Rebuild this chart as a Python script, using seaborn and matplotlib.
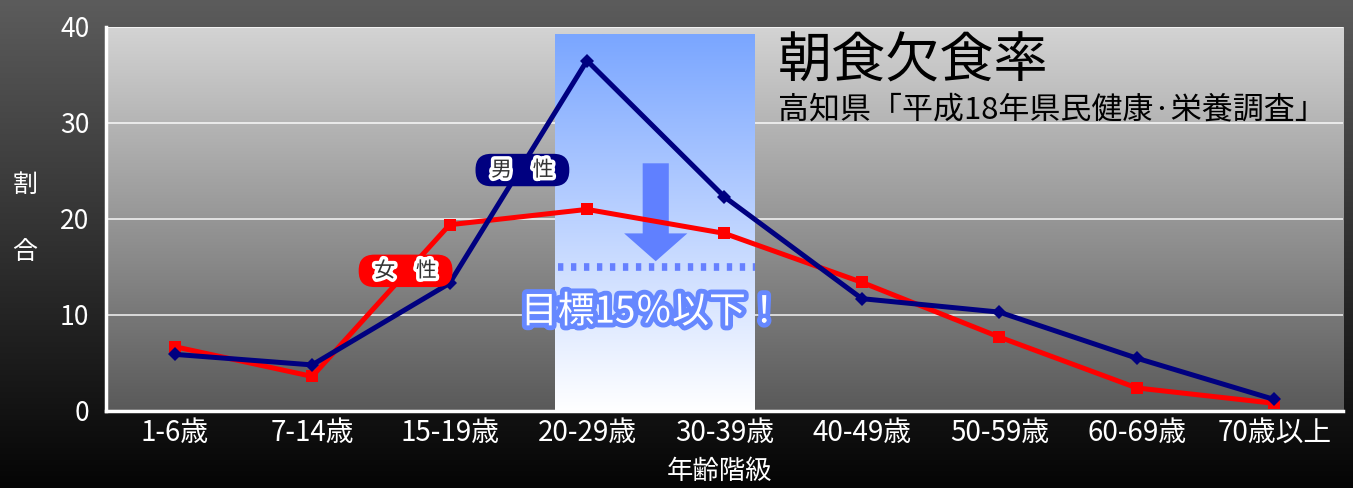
import numpy as np
import pandas as pd
import matplotlib
matplotlib.use('Agg')
import matplotlib.pyplot as plt
import matplotlib.patheffects as pe
from matplotlib.patches import FancyArrow
import seaborn as sns

age_groups = ['1-6歳', '7-14歳', '15-19歳', '20-29歳', '30-39歳',
              '40-49歳', '50-59歳', '60-69歳', '70歳以上']
male = [5.9, 4.8, 13.3, 36.5, 22.3, 11.7, 10.3, 5.5, 1.2]
female = [6.7, 3.6, 19.4, 21.0, 18.5, 13.4, 7.7, 2.4, 0.8]
y_ticks = [0, 10, 20, 30, 40]
target = 15

sns.set_style('white')
plt.rcParams['font.family'] = ['Noto Sans CJK JP', 'DejaVu Sans']

fig = plt.figure(figsize=(13.53, 4.88), dpi=100)

# figure background gradient
bg = fig.add_axes([0, 0, 1, 1], zorder=-10)
g = np.linspace(0, 1, 256).reshape(-1, 1)
bg_col = 0.36 * (1 - g) + 0.02 * g
bg.imshow(np.dstack([bg_col, bg_col, bg_col]), aspect='auto', extent=[0, 1, 0, 1])
bg.axis('off')

ax = fig.add_axes([0.0783, 0.1578, 0.9143, 0.7869])
ax.patch.set_alpha(0)

# plot area gradient
pa = 0.83 * (1 - g) + 0.35 * g
ax.imshow(np.dstack([pa, pa, pa]), aspect='auto', extent=[-0.5, 8.5, 0, 40], zorder=0)

# highlighted band (20-39)
hl = np.dstack([(122 + (255 - 122) * g) / 255, (166 + (255 - 166) * g) / 255, np.ones_like(g)])
ax.imshow(hl, aspect='auto', extent=[2.77, 4.22, 0, 39.2], zorder=1)

for yv in y_ticks[1:]:
    ax.axhline(yv, color='white', lw=1.2, alpha=0.85, zorder=0.5)

ax.plot([2.79, 4.22], [target, target], color='#6680ff', lw=5.5,
        linestyle=(0, (0.7, 1.0)), zorder=2)
ax.add_patch(FancyArrow(3.5, 25.8, 0, -10.2, width=0.19, head_width=0.46,
                        head_length=2.9, length_includes_head=True,
                        color='#6080ff', lw=0, zorder=2))

df = pd.DataFrame({'age': age_groups, 'male': male, 'female': female})
sns.lineplot(data=df, x='age', y='female', ax=ax, color='#ff0000', lw=3.6,
             marker='s', markersize=8.5, markeredgewidth=0, sort=False, zorder=4)
sns.lineplot(data=df, x='age', y='male', ax=ax, color='#000080', lw=3.6,
             marker='D', markersize=7.5, markeredgewidth=0, sort=False, zorder=5)

ax.set_xlim(-0.5, 8.5)
ax.set_ylim(0, 40)
ax.set_yticks(y_ticks)
ax.set_yticklabels([str(v) for v in y_ticks], fontsize=19, color='white')
ax.set_xticks(range(len(age_groups)))
ax.set_xticklabels(age_groups, fontsize=20, color='white')
ax.tick_params(axis='x', length=0, pad=5)
ax.tick_params(axis='y', length=0, pad=12)
ax.set_xticks(np.arange(0.5, 9, 1), minor=True)
ax.tick_params(axis='x', which='minor', direction='in', length=7, color='white', width=1.2)
ax.set_xlabel('')
ax.set_ylabel('')
for s in ['top', 'right']:
    ax.spines[s].set_visible(False)
for s in ['left', 'bottom']:
    ax.spines[s].set_color('white')
    ax.spines[s].set_linewidth(2.5)
    ax.spines[s].set_zorder(6)

lab_fx = [pe.withStroke(linewidth=5, foreground='white')]
ax.text(2.53, 25.1, '\u2002男　性\u2002', fontsize=15, color='#333333', ha='center', va='center',
        path_effects=lab_fx, zorder=7,
        bbox=dict(boxstyle='round,pad=0.25,rounding_size=0.75', fc='#000080', ec='none'))
ax.text(1.68, 14.6, '\u2002女　性\u2002', fontsize=15, color='#333333', ha='center', va='center',
        path_effects=lab_fx, zorder=7,
        bbox=dict(boxstyle='round,pad=0.25,rounding_size=0.75', fc='#ff0000', ec='none'))

ax.text(3.47, 10.3, '目標15％以下！', fontsize=26.5, color='white', ha='center', va='center',
        path_effects=[pe.withStroke(linewidth=7, foreground='#6688ff')], zorder=7)

fig.text(778 / 1353, 1 - 62 / 488, '朝食欠食率', fontsize=39, color='black', ha='left', va='center')
fig.text(778 / 1353, 1 - 110 / 488, '高知県「平成18年県民健康·栄養調査」', fontsize=22.3,
         color='black', ha='left', va='center')

fig.text(25 / 1353, 1 - 185 / 488, '割', fontsize=18, color='white', ha='center', va='center')
fig.text(25 / 1353, 1 - 252 / 488, '合', fontsize=18, color='white', ha='center', va='center')
fig.text(720 / 1353, 1 - 471 / 488, '年齢階級', fontsize=19, color='white', ha='center', va='center')

fig.savefig('out.png', dpi=100)
